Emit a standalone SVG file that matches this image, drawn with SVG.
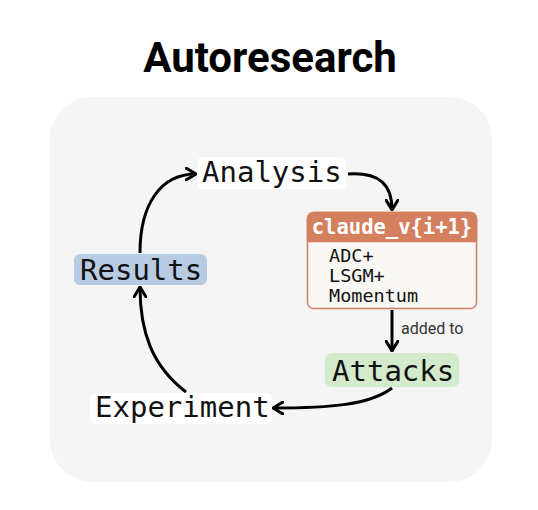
<svg xmlns="http://www.w3.org/2000/svg" width="538" height="510" viewBox="0 0 538 510">
<style>
.mono{font-family:"DejaVu Sans Mono","Liberation Mono",monospace;fill:#111}
.big{font-size:29px}
.conn{fill:none;stroke:#000;stroke-width:3}
</style>
<defs>
<marker id="ah" viewBox="0 0 12 14" refX="11" refY="7" markerWidth="12" markerHeight="14" markerUnits="userSpaceOnUse" orient="auto">
<path d="M1,1 L11,7 L1,13" fill="none" stroke="#000" stroke-width="3" stroke-linecap="round" stroke-linejoin="round"/>
</marker>
</defs>
<rect width="538" height="510" fill="#fff"/>
<text x="270" y="72" text-anchor="middle" font-family="Roboto,'Liberation Sans',sans-serif" font-weight="bold" font-size="42" fill="#000">Autoresearch</text>
<rect x="50" y="97" width="442" height="385" rx="42" fill="#f5f5f5"/>
<g id="connectors">
<path class="conn" d="M140,253 C140,205 160,174 196,174" marker-end="url(#ah)"/>
<path class="conn" d="M348,174 C380,172 392,185 392,210" marker-end="url(#ah)"/>
<path class="conn" d="M392,310 L392,351" marker-end="url(#ah)"/>
<text x="401" y="334" font-family="Roboto,'Liberation Sans',sans-serif" font-size="16" fill="#333">added to</text>
<path class="conn" d="M392,388 C370,405 330,408 273,408" marker-end="url(#ah)"/>
<path class="conn" d="M186,392 C152,366 140,332 140,287" marker-end="url(#ah)"/>
</g>
<g id="analysis">
<rect x="197" y="157" width="149" height="32" rx="6" fill="#fff"/>
<text class="mono big" x="202" y="182">Analysis</text>
</g>
<g id="results">
<rect x="74" y="254" width="133" height="31" rx="6" fill="#b7cbe2"/>
<text class="mono big" x="80" y="280">Results</text>
</g>
<g id="attacks">
<rect x="325" y="353" width="134" height="34" rx="7" fill="#d4ebcb"/>
<text class="mono big" x="332" y="381">Attacks</text>
</g>
<g id="experiment">
<rect x="90" y="393" width="182" height="31" rx="6" fill="#fff"/>
<text class="mono big" x="95" y="417">Experiment</text>
</g>
<g id="claude">
<rect x="307.5" y="212.5" width="169" height="96" rx="6" fill="#faf8f4" stroke="#d4805f" stroke-width="1.5"/>
<path d="M307.5,241.5 V218.5 a6,6 0 0 1 6,-6 H470.5 a6,6 0 0 1 6,6 V241.5 Z" fill="#d4805f" stroke="#d4805f" stroke-width="1.5"/>
<text x="392" y="234" text-anchor="middle" font-family="'DejaVu Sans Mono',monospace" font-weight="bold" font-size="20.5" fill="#fff">claude_v{i+1}</text>
<text class="mono" x="329" y="262" font-size="18.5">ADC+</text>
<text class="mono" x="329" y="282" font-size="18.5">LSGM+</text>
<text class="mono" x="329" y="302" font-size="18.5">Momentum</text>
</g>
</svg>
